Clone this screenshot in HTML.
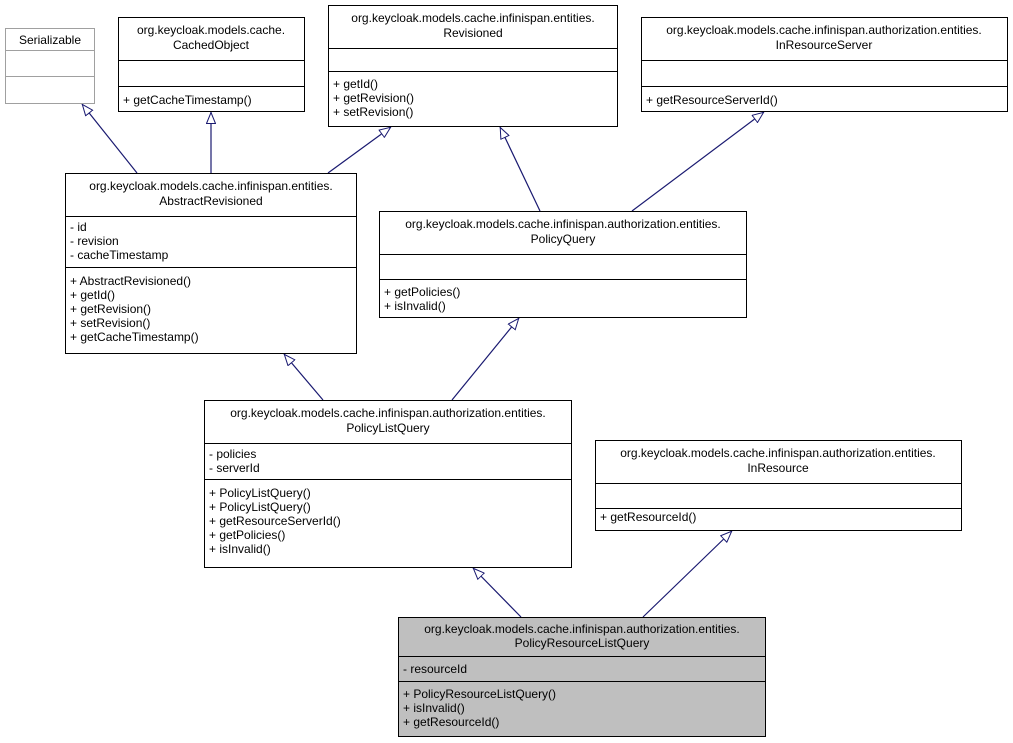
<!DOCTYPE html>
<html><head><meta charset="utf-8"><style>
html,body{margin:0;padding:0;background:#fff;}
svg{display:block;}
text{font-family:"Liberation Sans",Arial,sans-serif;font-size:12px;fill:#000;}
</style></head><body>
<svg width="1013" height="743" viewBox="0 0 1013 743" xmlns="http://www.w3.org/2000/svg">
<defs>
<marker id="tri" viewBox="0 0 12 10" refX="12" refY="5" markerWidth="12" markerHeight="10" markerUnits="userSpaceOnUse" orient="auto">
<path d="M0.5,0.5 L11.5,5 L0.5,9.5 Z" fill="#fff" stroke="#191970" stroke-width="1"/>
</marker>
</defs>
<g stroke="#191970" stroke-width="1.2" fill="none" marker-end="url(#tri)">
<line x1="137" y1="173" x2="82" y2="104"/>
<line x1="211" y1="173" x2="211" y2="112"/>
<line x1="328" y1="173" x2="391" y2="127"/>
<line x1="540" y1="211" x2="500" y2="127"/>
<line x1="632" y1="211" x2="764" y2="112"/>
<line x1="323" y1="400" x2="284" y2="354"/>
<line x1="452" y1="400" x2="519" y2="318"/>
<line x1="521" y1="617" x2="473" y2="568"/>
<line x1="643" y1="617" x2="732" y2="531"/>
</g>
<!-- Serializable -->
<g stroke="#a0a0a0" fill="#fff"><rect x="5.5" y="28.5" width="89" height="75"/><line x1="5.5" y1="50.5" x2="94.5" y2="50.5"/><line x1="5.5" y1="76.5" x2="94.5" y2="76.5"/></g>
<text x="50" y="44" text-anchor="middle" fill="#555">Serializable</text>
<g stroke="#000" fill="#fff">
<rect x="118.5" y="17.5" width="186" height="94"/><line x1="118.5" y1="60.5" x2="304.5" y2="60.5"/><line x1="118.5" y1="86.5" x2="304.5" y2="86.5"/>
<rect x="328.5" y="5.5" width="289" height="121"/><line x1="328.5" y1="48.5" x2="617.5" y2="48.5"/><line x1="328.5" y1="71.5" x2="617.5" y2="71.5"/>
<rect x="641.5" y="17.5" width="366" height="94"/><line x1="641.5" y1="60.5" x2="1007.5" y2="60.5"/><line x1="641.5" y1="86.5" x2="1007.5" y2="86.5"/>
<rect x="65.5" y="173.5" width="291" height="180"/><line x1="65.5" y1="216.5" x2="356.5" y2="216.5"/><line x1="65.5" y1="267.5" x2="356.5" y2="267.5"/>
<rect x="379.5" y="211.5" width="367" height="106"/><line x1="379.5" y1="254.5" x2="746.5" y2="254.5"/><line x1="379.5" y1="279.5" x2="746.5" y2="279.5"/>
<rect x="204.5" y="400.5" width="367" height="167"/><line x1="204.5" y1="443.5" x2="571.5" y2="443.5"/><line x1="204.5" y1="479.5" x2="571.5" y2="479.5"/>
<rect x="595.5" y="440.5" width="366" height="90"/><line x1="595.5" y1="483.5" x2="961.5" y2="483.5"/><line x1="595.5" y1="508.5" x2="961.5" y2="508.5"/>
<rect x="398.5" y="617.5" width="367" height="119" fill="#bfbfbf"/><line x1="398.5" y1="656.5" x2="765.5" y2="656.5"/><line x1="398.5" y1="681.5" x2="765.5" y2="681.5"/>
</g>
<g text-anchor="middle">
<text x="211" y="34">org.keycloak.models.cache.</text><text x="211" y="49">CachedObject</text>
<text x="473" y="22">org.keycloak.models.cache.infinispan.entities.</text><text x="473" y="37">Revisioned</text>
<text x="824" y="34">org.keycloak.models.cache.infinispan.authorization.entities.</text><text x="824" y="49">InResourceServer</text>
<text x="211" y="190">org.keycloak.models.cache.infinispan.entities.</text><text x="211" y="205">AbstractRevisioned</text>
<text x="563" y="228">org.keycloak.models.cache.infinispan.authorization.entities.</text><text x="563" y="243">PolicyQuery</text>
<text x="388" y="417">org.keycloak.models.cache.infinispan.authorization.entities.</text><text x="388" y="432">PolicyListQuery</text>
<text x="778" y="457">org.keycloak.models.cache.infinispan.authorization.entities.</text><text x="778" y="472">InResource</text>
<text x="582" y="633">org.keycloak.models.cache.infinispan.authorization.entities.</text><text x="582" y="647">PolicyResourceListQuery</text>
</g>
<text x="123" y="104">+ getCacheTimestamp()</text>
<text x="333" y="88">+ getId()</text><text x="333" y="102">+ getRevision()</text><text x="333" y="116">+ setRevision()</text>
<text x="646" y="104">+ getResourceServerId()</text>
<text x="70" y="231">- id</text><text x="70" y="245">- revision</text><text x="70" y="259">- cacheTimestamp</text>
<text x="70" y="285">+ AbstractRevisioned()</text><text x="70" y="299">+ getId()</text><text x="70" y="313">+ getRevision()</text><text x="70" y="327">+ setRevision()</text><text x="70" y="341">+ getCacheTimestamp()</text>
<text x="384" y="296">+ getPolicies()</text><text x="384" y="310">+ isInvalid()</text>
<text x="209" y="458">- policies</text><text x="209" y="472">- serverId</text>
<text x="209" y="497">+ PolicyListQuery()</text><text x="209" y="511">+ PolicyListQuery()</text><text x="209" y="525">+ getResourceServerId()</text><text x="209" y="539">+ getPolicies()</text><text x="209" y="553">+ isInvalid()</text>
<text x="600" y="521">+ getResourceId()</text>
<text x="403" y="673">- resourceId</text>
<text x="403" y="698">+ PolicyResourceListQuery()</text><text x="403" y="712">+ isInvalid()</text><text x="403" y="726">+ getResourceId()</text>
</svg>
</body></html>
